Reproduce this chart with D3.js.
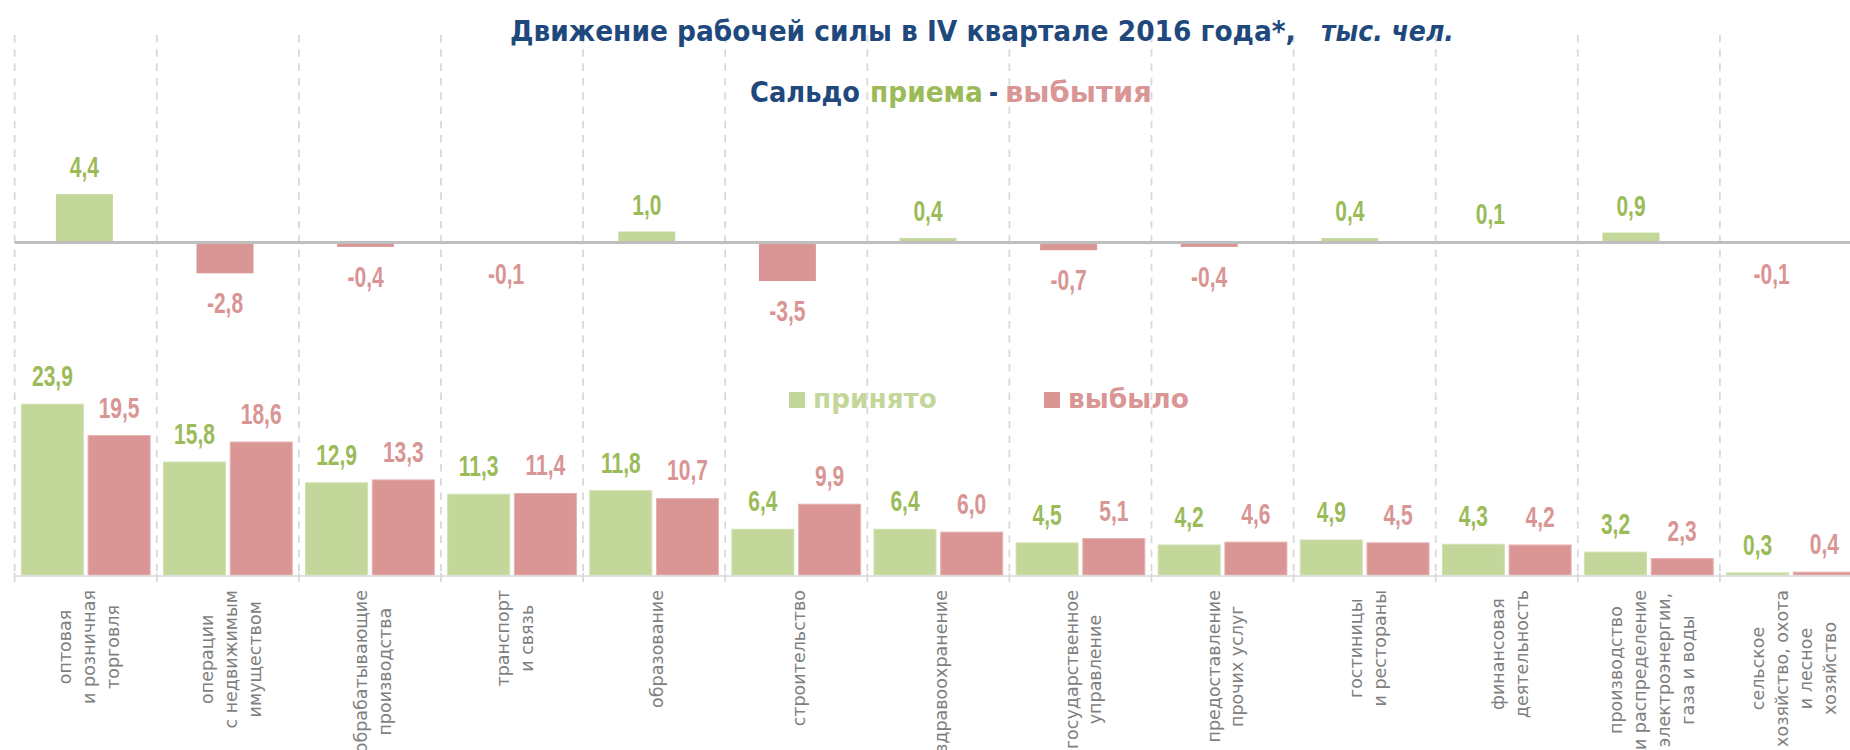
<!DOCTYPE html>
<html>
<head>
<meta charset="utf-8">
<script src="https://cdnjs.cloudflare.com/ajax/libs/d3/7.8.5/d3.min.js"></script>
<style>
  body { margin: 0; background: #fff; }
  .grid line { stroke: #d9d9d9; }
  .cat text { font-family: "DejaVu Sans", Verdana, sans-serif; font-size: 17.5px; fill: #7f7f7f; }
  .val { font-family: "Liberation Sans", Arial, sans-serif; font-weight: bold; font-size: 30px; }
  .head { font-family: "DejaVu Sans", Tahoma, sans-serif; font-weight: bold; }
</style>
</head>
<body>
<div id="chart"></div>
<script>
// categories (line breaks as in the picture)
var categories = [
  ["оптовая", "и розничная", "торговля"],
  ["операции", "с недвижимым", "имуществом"],
  ["обрабатывающие", "производства"],
  ["транспорт", "и связь"],
  ["образование"],
  ["строительство"],
  ["здравоохранение"],
  ["государственное", "управление"],
  ["предоставление", "прочих услуг"],
  ["гостиницы", "и рестораны"],
  ["финансовая", "деятельность"],
  ["производство", "и распределение", "электроэнергии,", "газа и воды"],
  ["сельское", "хозяйство, охота", "и лесное", "хозяйство"]
];
var hired = [23.9, 15.8, 12.9, 11.3, 11.8, 6.4, 6.4, 4.5, 4.2, 4.9, 4.3, 3.2, 0.3];
var left = [19.5, 18.6, 13.3, 11.4, 10.7, 9.9, 6.0, 5.1, 4.6, 4.5, 4.2, 2.3, 0.4];
var balance = [4.4, -2.8, -0.4, -0.1, 1.0, -3.5, 0.4, -0.7, -0.4, 0.4, 0.1, 0.9, -0.1];

var GREEN = "#c4d79b", GREEN_TXT = "#9bbb59", RED = "#da9694", RED_TXT = "#d99594", BLUE = "#1f497d";

var width = 1850, height = 750;
var svg = d3.select("#chart").append("svg")
  .attr("width", width)
  .attr("height", height);

var fmt = function(v){ return d3.format(".1f")(v).replace(".", ",").replace("−", "-"); };
var idx = d3.range(categories.length);

//squeeze a bold heading text horizontally so it takes the width it has in the picture
var fitText = function(sel, x, y, w){
  var natural = sel.node().getComputedTextLength();
  sel.attr("transform", "translate(" + x + "," + y + ") scale(" + (w / natural) + ",1)");
};

//Scales - lower chart (hired / left)
var x = d3.scaleBand().domain(idx).range([14.7, 14.7 + 13 * 142.1]);
var xs = d3.scaleBand().domain(["hired", "left"]).range([0, x.bandwidth()])
  .paddingInner(0.07).paddingOuter(0.1);
var y = d3.scaleLinear().domain([0, 25]).range([575, 575 - 25 * 7.15]);

//Scales - upper chart (balance)
var xt = d3.scaleBand().domain(idx).range([14.1, 14.1 + 13 * 140.6])
  .paddingInner(0.595).paddingOuter(0.2975);
var yt = d3.scaleLinear().domain([-4, 5]).range([242.5 + 44, 242.5 - 55]);

//vertical dashed grid
svg.append("g").attr("class", "grid")
  .selectAll("line").data(idx).enter().append("line")
  .attr("x1", function(d){ return x(d); })
  .attr("x2", function(d){ return x(d); })
  .attr("y1", 35).attr("y2", 575)
  .attr("stroke-width", 1.8)
  .attr("stroke-dasharray", "7.5,6.8");

//titles
var heads = [
  {t: "Движение рабочей силы в IV квартале 2016 года*,", x: 510, y: 41, w: 786, c: BLUE},
  {t: "тыс. чел.", x: 1321, y: 41, w: 133, c: BLUE, italic: true},
  {t: "Сальдо", x: 750, y: 102, w: 110, c: BLUE},
  {t: "приема", x: 870, y: 102, w: 113, c: GREEN_TXT},
  {t: "-", x: 989, y: 102, w: 9, c: BLUE},
  {t: "выбытия", x: 1005, y: 102, w: 147, c: RED}
];
heads.forEach(function(h){
  var t = svg.append("text").attr("class", "head")
    .attr("font-size", 29).attr("fill", h.c)
    .attr("font-style", h.italic ? "italic" : null)
    .text(h.t);
  fitText(t, h.x, h.y, h.w);
});

//upper chart bars
svg.append("g").selectAll("rect").data(balance).enter().append("rect")
  .attr("x", function(d, i){ return xt(i); })
  .attr("width", xt.bandwidth())
  .attr("y", function(d){ return d >= 0 ? yt(d) : yt(0); })
  .attr("height", function(d){ return Math.abs(yt(d) - yt(0)); })
  .attr("fill", function(d){ return d >= 0 ? GREEN : RED; });

//zero line
svg.append("line")
  .attr("x1", 14.7).attr("x2", width)
  .attr("y1", yt(0)).attr("y2", yt(0))
  .attr("stroke", "#bfbfbf").attr("stroke-width", 3);

//upper labels
svg.append("g").selectAll("text").data(balance).enter().append("text")
  .attr("class", "val")
  .attr("text-anchor", "middle")
  .attr("fill", function(d){ return d >= 0 ? GREEN_TXT : RED_TXT; })
  .attr("transform", function(d, i){
    var cx = xt(i) + xt.bandwidth() / 2;
    var ty = d >= 0 ? yt(d) - 17 : yt(d) + 40;
    return "translate(" + cx + "," + ty + ") scale(0.7,1)";
  })
  .text(function(d){ return fmt(d); });

//lower chart bars
var series = [
  {key: "hired", values: hired, fill: GREEN, edge: "#d3e2b4", txt: GREEN_TXT},
  {key: "left", values: left, fill: RED, edge: "#e6b3b1", txt: RED_TXT}
];
series.forEach(function(s){
  svg.append("g").selectAll("rect").data(s.values).enter().append("rect")
    .attr("x", function(d, i){ return x(i) + xs(s.key); })
    .attr("width", xs.bandwidth())
    .attr("y", function(d){ return y(d); })
    .attr("height", function(d){ return y(0) - y(d); })
    .attr("fill", s.fill)
    .attr("stroke", s.edge).attr("stroke-width", 1);

  svg.append("g").selectAll("text").data(s.values).enter().append("text")
    .attr("class", "val")
    .attr("text-anchor", "middle")
    .attr("fill", s.txt)
    .attr("transform", function(d, i){
      return "translate(" + (x(i) + xs(s.key) + xs.bandwidth() / 2) + "," + (y(d) - 18) + ") scale(0.7,1)";
    })
    .text(function(d){ return fmt(d); });
});

//baseline with ticks
svg.append("line")
  .attr("x1", 14.7).attr("x2", width)
  .attr("y1", 576).attr("y2", 576)
  .attr("stroke", "#d9d9d9").attr("stroke-width", 1.5);
svg.append("g").selectAll("line").data(idx).enter().append("line")
  .attr("x1", function(d){ return x(d); })
  .attr("x2", function(d){ return x(d); })
  .attr("y1", 573).attr("y2", 582)
  .attr("stroke", "#d9d9d9").attr("stroke-width", 1.8);

//legend
var legend = [
  {name: "принято", color: GREEN, x: 789, w: 124},
  {name: "выбыло", color: RED, x: 1044, w: 121}
];
legend.forEach(function(l){
  svg.append("rect").attr("x", l.x).attr("y", 392).attr("width", 16).attr("height", 16).attr("fill", l.color);
  var t = svg.append("text").attr("class", "head")
    .attr("font-size", 27).attr("fill", l.color)
    .text(l.name);
  fitText(t, l.x + 24, 408, l.w);
});

//category labels, rotated, block top-aligned under the axis
var lh = 23.8;
var cat = svg.append("g").attr("class", "cat");
categories.forEach(function(lines, i){
  var g = cat.append("g");
  var texts = lines.map(function(t, j){
    return g.append("text")
      .attr("text-anchor", "middle")
      .attr("dominant-baseline", "central")
      .attr("transform", "rotate(-90)")
      .attr("y", (j - (lines.length - 1) / 2) * lh)
      .text(t);
  });
  var maxLen = d3.max(texts, function(t){ return t.node().getComputedTextLength(); });
  g.attr("transform", "translate(" + (x(i) + x.bandwidth() / 2 + 3) + "," + (590 + maxLen / 2) + ")");
});
</script>
</body>
</html>
